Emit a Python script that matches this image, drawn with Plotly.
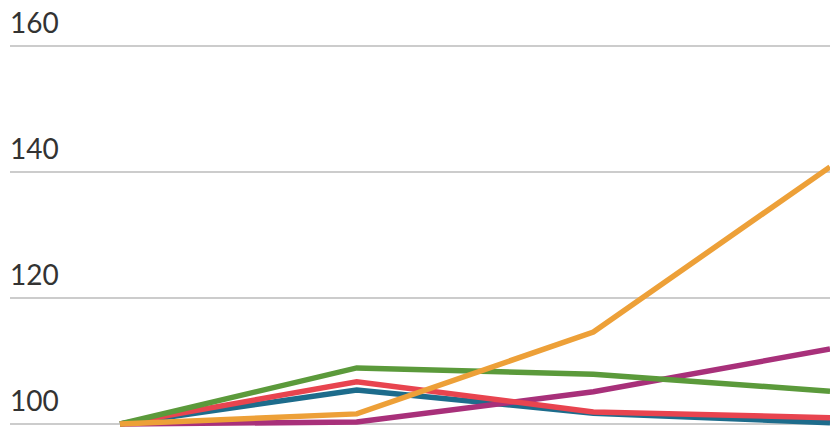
import plotly.graph_objects as go

# Index values (base = 100) for four consecutive periods
periods = [0, 1, 2, 3]
orange = [100, 101.6, 114.6, 140.8]
green = [100, 108.9, 107.9, 105.2]
purple = [100, 100.3, 105.1, 111.9]
teal = [100, 105.4, 101.7, 100.2]
red = [100, 106.7, 101.9, 101.0]

tick_values = [100, 120, 140, 160]
tick_labels = ["100", "120", "140", "160"]

series = [
    (teal, "#1d6c8c"),
    (purple, "#a8307a"),
    (red, "#e8444f"),
    (green, "#5b9a3b"),
    (orange, "#eda038"),
]

fig = go.Figure()
for values, color in series:
    fig.add_trace(go.Scatter(
        x=periods, y=values, mode="lines",
        line=dict(color=color, width=5.5),
        hoverinfo="skip", showlegend=False,
    ))

for v, label in zip(tick_values, tick_labels):
    fig.add_annotation(
        x=0, xref="paper", xanchor="left", xshift=-2,
        y=v, yref="y", yanchor="bottom", yshift=5,
        text=label, showarrow=False,
        font=dict(family="Lato", size=28, color="#333333"),
    )

fig.update_layout(
    width=830, height=429,
    margin=dict(l=10, r=0, t=0, b=0),
    paper_bgcolor="white", plot_bgcolor="white",
    xaxis=dict(range=[-0.465, 3.0], showgrid=False, zeroline=False,
               showticklabels=False, fixedrange=True),
    yaxis=dict(range=[99.2, 167.3], tickvals=tick_values, showticklabels=False,
               gridcolor="#cccccc", gridwidth=2, zeroline=False, fixedrange=True),
)

fig.write_html("out.html", config={"displayModeBar": False})
